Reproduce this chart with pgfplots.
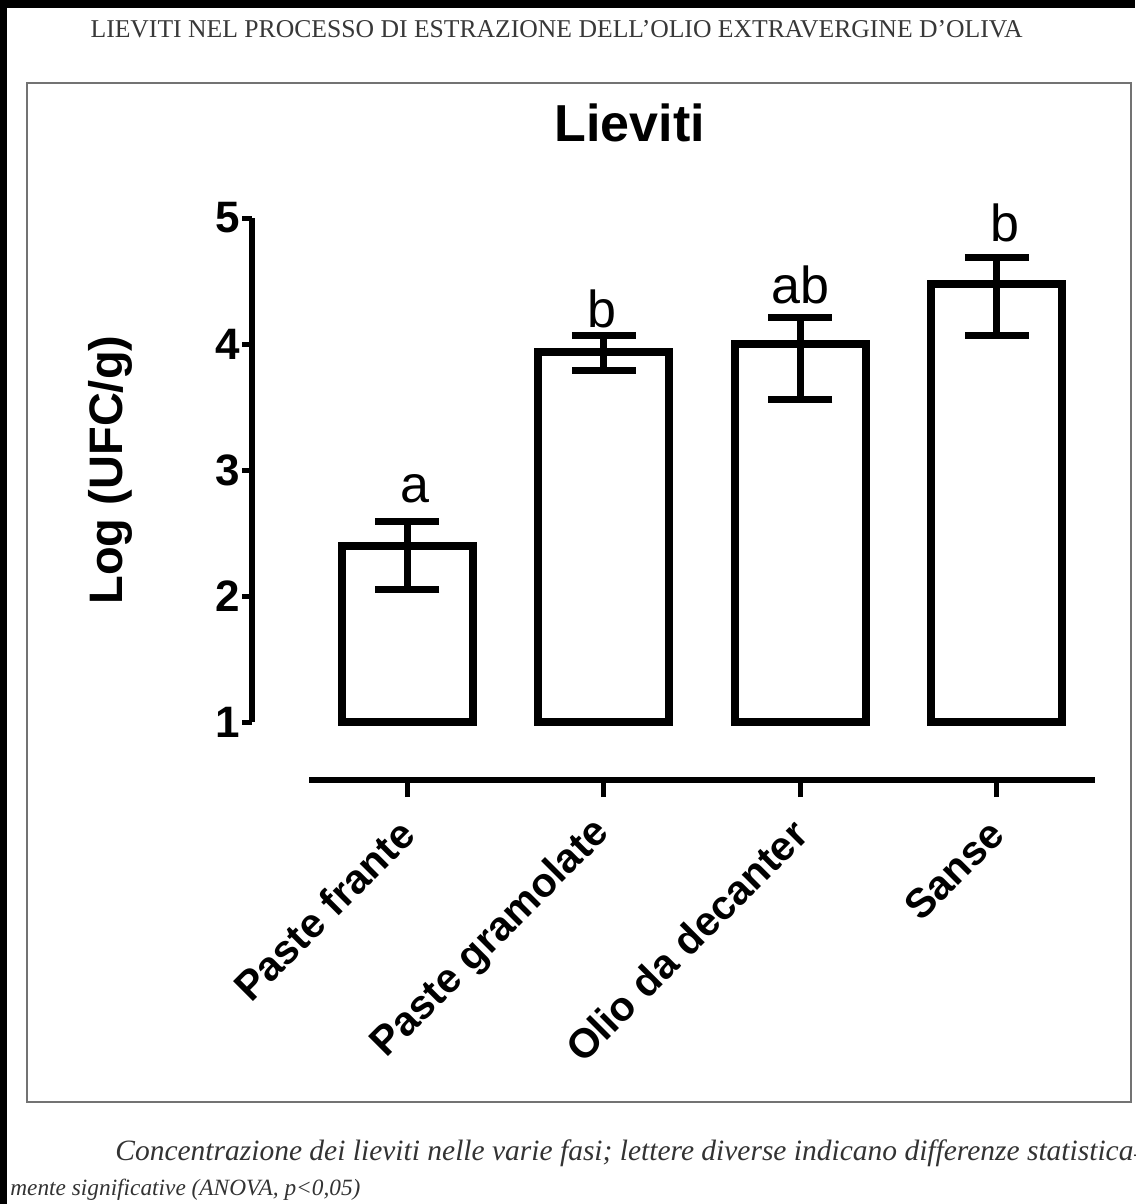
\documentclass[border=0pt]{standalone}
\usepackage{fontspec}
\usepackage{pgfplots}
\usepackage{pgfplotstable}
\pgfplotsset{compat=1.18}
\newfontfamily\arial{Liberation Sans}
\newfontfamily\capfont{Liberation Serif}

% mean log counts with upper / lower error extents
\pgfplotstableread{
x  y     ep    em
0  2.40  0.19  0.35
1  3.94  0.13  0.15
2  4.00  0.21  0.44
3  4.48  0.21  0.41
}\lieviti

\begin{document}
\begin{tikzpicture}[x=1pt,y=1pt]
\useasboundingbox (0,0) rectangle (567.5,-602);
\fill[white] (0,0) rectangle (567.5,-602);
\fill[black] (0,0) rectangle (567.5,-4);
\fill[black] (0,0) rectangle (3.5,-602);
% figure frame
\draw[black!55, line width=1.2pt] (13.5,-41.5) rectangle (565.5,-551);
% running head
\node[anchor=base, text=black!78, inner sep=0pt] at (278.3,-19)
  {\capfont\resizebox{466pt}{!}{LIEVITI NEL PROCESSO DI ESTRAZIONE DELL’OLIO EXTRAVERGINE D’OLIVA}};
% caption
\node[anchor=base west, text=black!80, inner sep=0pt] at (57.5,-580)
  {\capfont\itshape\resizebox{509pt}{!}{Concentrazione dei lieviti nelle varie fasi; lettere diverse indicano differenze statistica}-};
\node[anchor=base west, text=black!80, inner sep=0pt] at (5,-597.5)
  {\capfont\itshape\resizebox{175pt}{!}{mente significative (ANOVA, p<0,05)}};

\begin{axis}[
  at={(154.5pt,-361pt)}, anchor=south west,
  scale only axis, width=393pt, height=252pt,
  xmin=-0.5, xmax=3.5,
  y coord trafo/.code={\pgfmathparse{#1-1}},
  y coord inv trafo/.code={\pgfmathparse{#1+1}},
  ymin=1, ymax=5,
  axis x line=bottom, axis y line=left,
  axis x line shift=29pt, axis y line shift=28.5pt,
  axis line style={-, line width=3pt, black},
  xtick={0,1,2,3},
  xticklabels={Paste frante, Paste gramolate, Olio da decanter, Sanse},
  ytick={1,2,3,4,5}, yticklabels={1,2,3,4,5},
  tick align=outside, major tick length=5pt,
  tick style={line width=2.5pt, black},
  xtick style={/pgfplots/major tick length=8.5pt},
  xticklabel shift=18.5pt,
  x tick label style={font=\arial\bfseries\fontsize{20.5}{20.5}\selectfont, rotate=45, anchor=east, inner sep=0pt},
  y tick label style={font=\arial\bfseries\fontsize{22}{22}\selectfont, inner xsep=1pt},
  ylabel={Log (UFC/g)},
  ylabel style={at={(axis description cs:-0.253,0.5)}, anchor=center, font=\arial\bfseries\fontsize{23.5}{23.5}\selectfont},
  title={Lieviti},
  title style={at={(axis description cs:0.408,1.165)}, anchor=center, font=\arial\bfseries\fontsize{26}{26}\selectfont},
  clip=false,
]
\addplot[ybar, bar width=0.665, bar shift=0pt, draw=black, fill=white,
  line width=4pt, line join=miter,
  error bars/.cd, y dir=both, y explicit,
  error bar style={line width=3.5pt, black},
  error mark options={rotate=90, line width=3.5pt, mark size=16pt, black}]
  table[x=x, y=y, y error plus=ep, y error minus=em] {\lieviti};

% significance letters
\begin{scope}[every node/.style={anchor=base, inner sep=0pt, font=\arial\fontsize{26}{26}\selectfont}]
\node at (axis cs:0.04,2.74) {a};
\node at (axis cs:0.99,4.135) {b};
\node at (axis cs:2.0,4.325) {ab};
\node at (axis cs:3.04,4.81) {b};
\end{scope}
\end{axis}
\end{tikzpicture}
\end{document}
